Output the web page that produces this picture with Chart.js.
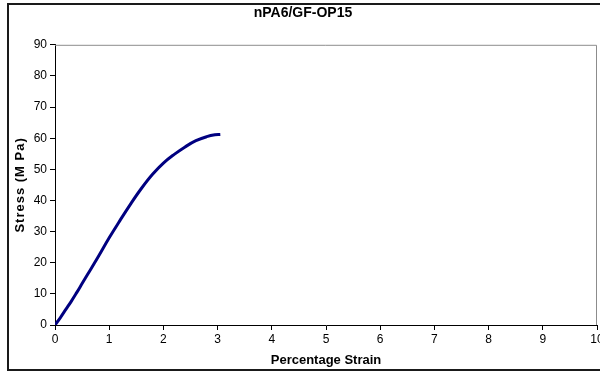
<!DOCTYPE html>
<html>
<head>
<meta charset="utf-8">
<script src="https://cdn.jsdelivr.net/npm/chart.js@4"></script>
<style>
  html, body { margin: 0; padding: 0; background: #fff; overflow: hidden; width: 600px; height: 374px; }
  #frame { position: absolute; left: 7px; top: 3px; width: 600px; height: 364px; border: 2px solid #1a1a1a; }
  canvas { display: block; }
</style>
</head>
<body>
<div id="frame"><canvas id="c" width="600" height="364"></canvas></div>
<script>
// Tensile test: stress vs strain
const strain = [0, 0.1, 0.2, 0.3, 0.4, 0.5, 0.6, 0.8, 1.0, 1.2, 1.4, 1.6, 1.8, 2.0, 2.2, 2.4, 2.6, 2.8, 2.95, 3.05];
const stress = [0, 2.4, 5.0, 7.6, 10.4, 13.3, 16.2, 22.0, 28.0, 33.6, 39.0, 44.0, 48.4, 52.0, 54.8, 57.2, 59.2, 60.5, 61.1, 61.2];
const xTicks = [0, 1, 2, 3, 4, 5, 6, 7, 8, 9, 10];
const yTicks = [0, 10, 20, 30, 40, 50, 60, 70, 80, 90];

const points = strain.map((s, i) => ({ x: s, y: stress[i] }));
const FONT = "'Liberation Sans', Arial, sans-serif";

// Grey frame on the top and right of the plot area
const plotFrame = {
  id: 'plotFrame',
  beforeDatasetsDraw(chart) {
    const { ctx, chartArea: a } = chart;
    ctx.save();
    ctx.strokeStyle = '#8c8c8c';
    ctx.lineWidth = 1;
    ctx.beginPath();
    ctx.moveTo(a.left, a.top + 0.5);
    ctx.lineTo(a.right - 0.5, a.top + 0.5);
    ctx.lineTo(a.right - 0.5, a.bottom);
    ctx.stroke();
    ctx.restore();
  }
};

const chart = new Chart(document.getElementById('c'), {
  type: 'scatter',
  data: {
    datasets: [{
      data: points,
      showLine: true,
      borderColor: '#000080',
      borderWidth: 3,
      pointRadius: 0,
      tension: 0.4,
      fill: false
    }]
  },
  options: {
    responsive: false,
    animation: false,
    layout: { padding: { left: 0, right: 12, top: 0, bottom: 0 } },
    plugins: {
      legend: { display: false },
      tooltip: { enabled: false },
      title: {
        display: true,
        text: 'nPA6/GF-OP15',
        color: '#000',
        font: { family: FONT, size: 14, weight: 'bold' },
        padding: { top: 0, bottom: 23 }
      }
    },
    scales: {
      x: {
        type: 'linear',
        min: 0, max: 10,
        afterBuildTicks: s => { s.ticks = xTicks.map(v => ({ value: v })); },
        afterFit: s => { s.height = 44; },
        border: { display: true, color: '#000', width: 1 },
        grid: { display: true, drawOnChartArea: false, drawTicks: true, tickLength: 5, color: '#000' },
        ticks: { color: '#000', font: { family: FONT, size: 12 }, padding: 2, maxRotation: 0 },
        title: {
          display: true, text: 'Percentage Strain', color: '#000',
          font: { family: FONT, size: 13, weight: 'bold' },
          padding: { top: 0, bottom: 1 }
        }
      },
      y: {
        type: 'linear',
        min: 0, max: 90,
        afterBuildTicks: s => { s.ticks = yTicks.map(v => ({ value: v })); },
        afterFit: s => { s.width = 46; },
        border: { display: true, color: '#000', width: 1 },
        grid: { display: true, drawOnChartArea: false, drawTicks: true, tickLength: 5, color: '#000' },
        ticks: { color: '#000', font: { family: FONT, size: 12 }, padding: 3 },
        title: {
          display: true, text: 'Stress (M Pa)', color: '#000',
          font: { family: FONT, size: 13, weight: 'bold' },
          padding: { top: 4, bottom: 0 }
        }
      }
    }
  },
  plugins: [plotFrame]
});

// Wider letter spacing for the vertical axis title
const yScale = chart.scales.y;
const drawYTitle = yScale.drawTitle.bind(yScale);
yScale.drawTitle = function () {
  const ctx = this.ctx;
  const prev = ctx.letterSpacing;
  ctx.letterSpacing = '1px';
  drawYTitle();
  ctx.letterSpacing = prev || '0px';
};
chart.draw();
</script>
</body>
</html>
